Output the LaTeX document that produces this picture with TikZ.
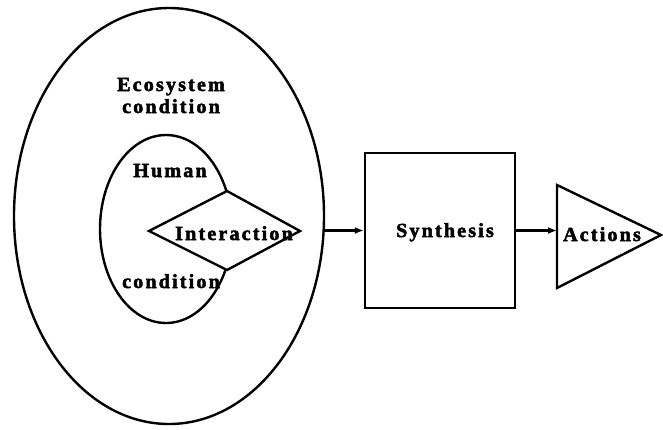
\documentclass[tikz,border=0pt]{standalone}
\usepackage{fontspec}
\setmainfont{Liberation Serif}
\newfontfamily\lblfont[LetterSpace=11,FakeBold=2.5]{Liberation Serif Bold}
\usetikzlibrary{arrows.meta,shapes.geometric}
\begin{document}
\begin{tikzpicture}[x=1pt,y=-1pt,
  shapeline/.style={draw=black,line width=2.4pt},
  lbl/.style={anchor=base,inner sep=0pt,font=\fontsize{20}{22}\lblfont},
  arr/.style={line width=2.2pt,-{Latex[length=9pt,width=7pt]}}]
\useasboundingbox (0,0) rectangle (663,429);
% outer ellipse
\node[shapeline,ellipse,minimum width=310pt,minimum height=416pt,inner sep=0pt] (outer) at (169,216) {};
% inner ellipse
\node[shapeline,ellipse,minimum width=132pt,minimum height=188pt,inner sep=0pt] (inner) at (166,229) {};
% diamond
\coordinate (dl) at (149,231);
\coordinate (dt) at (227,191);
\coordinate (dr) at (300,231);
\coordinate (db) at (227,270);
\filldraw[shapeline,fill=white,line join=miter] (dl) -- (dt) -- (dr) -- (db) -- cycle;
% box
\node[shapeline,rectangle,minimum width=150pt,minimum height=155pt,inner sep=0pt] (box) at (440,230.5) {};
% triangle
\coordinate (tt) at (557,185);
\coordinate (tb) at (557,288);
\coordinate (tp) at (661,235);
\draw[shapeline,line join=miter] (tt) -- (tp) -- (tb) -- cycle;
\coordinate (tin) at (557,230.5);
% labels
\node[lbl] (eco1) at (171,91) {Ecosystem};
\node[lbl] (eco2) at (171,113) {condition};
\node[lbl] (hum) at (170,177) {Human};
\node[lbl] (inter) at (234,240) {Interaction};
\node[lbl] (cond) at (171,288) {condition};
\node[lbl] (syn) at (445,237) {Synthesis};
\node[lbl] (act) at (602,241) {Actions};
% arrows
\draw[arr] (box.west -| outer.east) -- (box.west);
\draw[arr] (box.east) -- (tin);
\end{tikzpicture}
\end{document}
